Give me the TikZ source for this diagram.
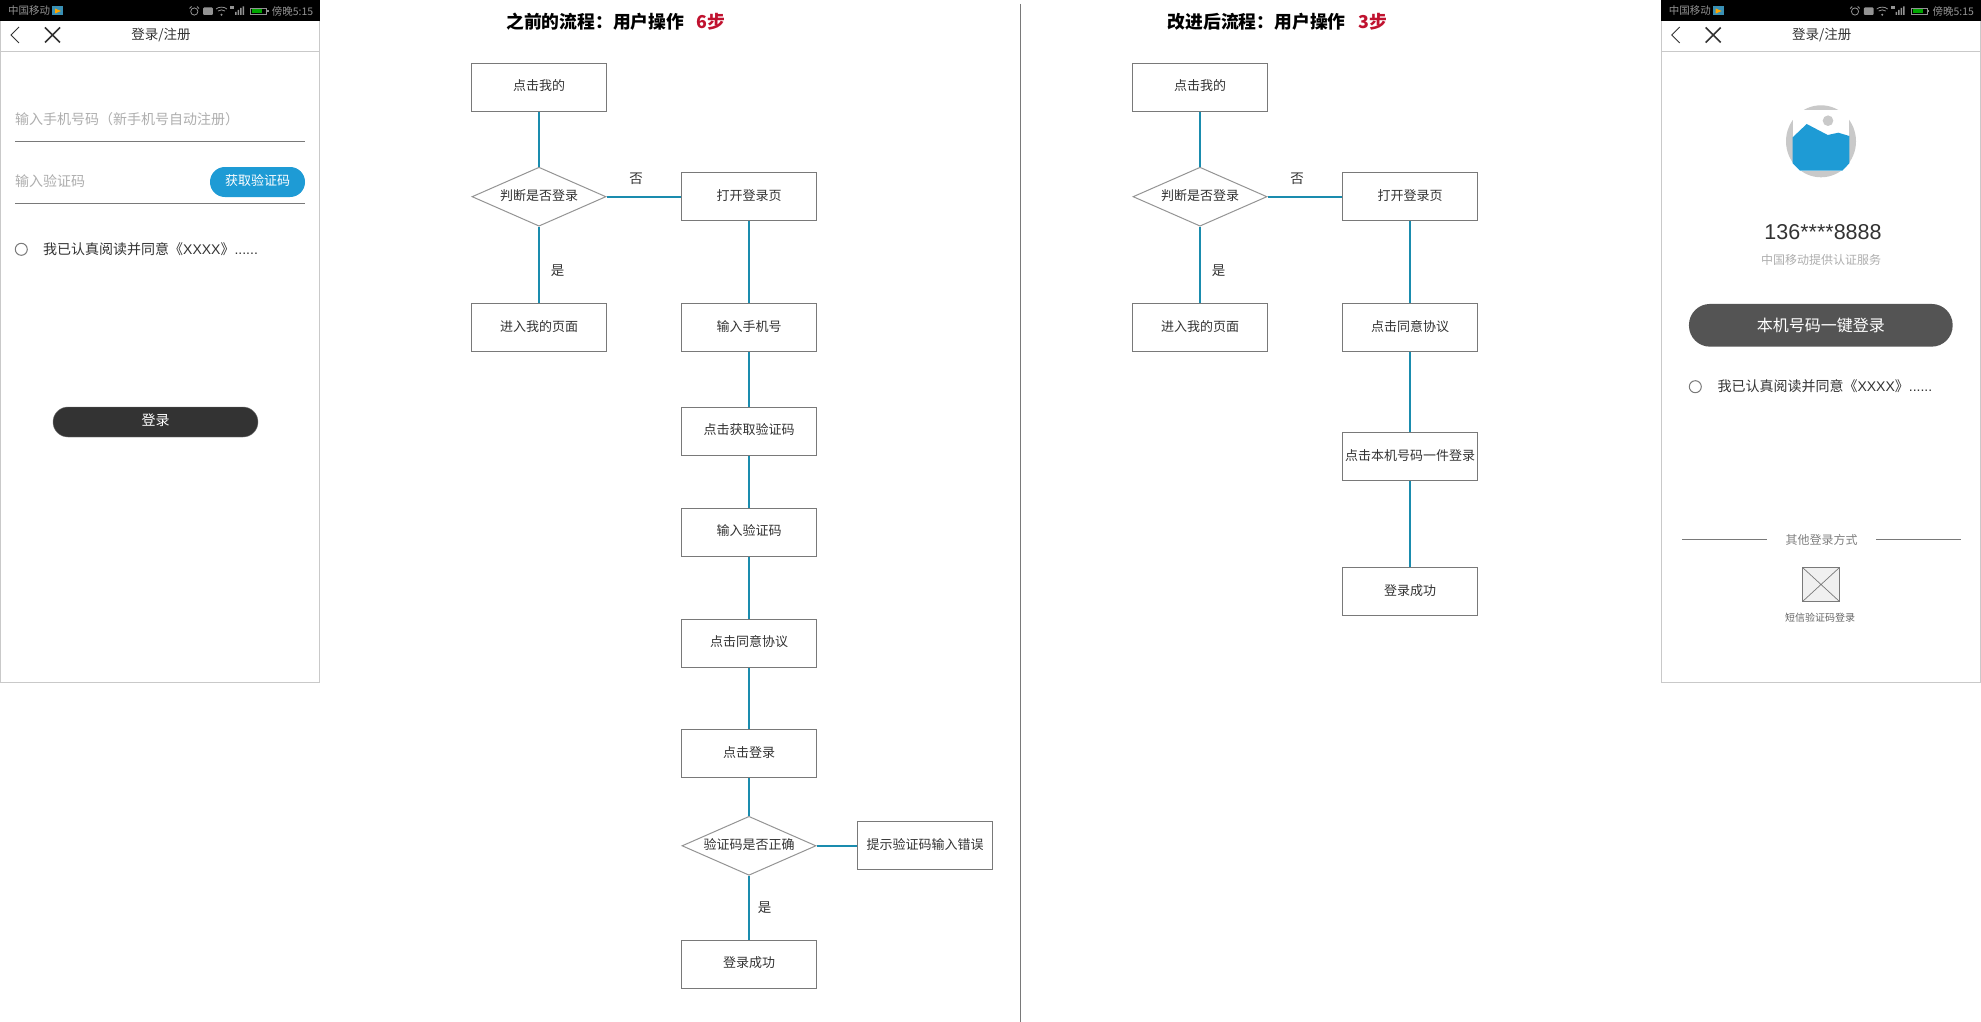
\documentclass[tikz,border=0pt]{standalone}
\usepackage{fontspec}
\setmainfont{Noto Sans CJK SC}
\newfontfamily\numfont{Liberation Sans}
\usetikzlibrary{shapes.geometric}
\definecolor{linegray}{HTML}{797979}
\definecolor{framegray}{HTML}{C9C9C9}
\definecolor{hintgray}{HTML}{AEAEAE}
\definecolor{textdark}{HTML}{333333}
\definecolor{flowblue}{HTML}{1A8CAE}
\definecolor{btnblue}{HTML}{1E9BD5}
\definecolor{stepred}{HTML}{C0122F}
\tikzset{
  raised/.style={text height=10pt, text depth=2.6pt},
  flowbox/.style={draw=linegray, line width=1pt, minimum width=135pt, minimum height=48pt, inner sep=0pt, text=textdark, raised, font=\fontsize{13}{15}\selectfont},
  flowdiamond/.style={draw=linegray!80, line width=1pt, shape=diamond, aspect=2.27, minimum width=134pt, minimum height=59pt, inner sep=0pt, text=textdark, raised, font=\fontsize{13}{15}\selectfont},
  flowline/.style={draw=flowblue, line width=2pt},
  flowlabel/.style={text=textdark, inner sep=0pt, font=\fontsize{13.5}{15}\selectfont},
  titletext/.style={inner sep=0pt, anchor=west, font=\fontsize{17.8}{20}\selectfont\bfseries},
  hint/.style={text=hintgray, inner sep=0pt, anchor=west, font=\fontsize{14}{16}\selectfont},
  agree/.style={text=textdark, inner sep=0pt, anchor=west, font=\fontsize{14}{16}\selectfont},
  status/.style={text=gray!85, inner sep=0pt, font=\fontsize{10.5}{12}\selectfont},
  rule/.style={draw=linegray, line width=1pt}
}
\begin{document}
\begin{tikzpicture}[x=1pt,y=-1pt]
\useasboundingbox (0,0) rectangle (1981,1022);
\fill[white] (0,0) rectangle (1981,1022);

% the two phone frames with status bar and title bar
\foreach \dx/\ph in {0/l,1660.7/r}{
\begin{scope}[shift={(\dx,0)}]
\draw[framegray, line width=1pt] (0.7,1) rectangle (319.6,682.5);
\fill[black] (0.2,0) rectangle (320.1,21.5);
\draw[framegray, line width=1pt] (0.7,51.5) -- (319.6,51.5);
\node[status, anchor=west] (\ph carrier) at (8,11) {中国移动};
\fill[cyan!70!black] (52,6.5) rectangle (63,15.5);
\fill[orange!70!yellow] (55,8.5) -- (61,11) -- (55,13.5) -- cycle;
\draw[gray!85, line width=0.8pt] (194.3,11.5) circle (3.6);
\draw[gray!85, line width=0.8pt] (189.5,8.5) -- (191.5,6.5) (199,8.5) -- (197,6.5);
\fill[gray!85, rounded corners=1pt] (203.2,7.5) rectangle (212.8,15);
\draw[gray!85, line width=0.8pt] (216,9) .. controls (219,6.5) and (224,6.5) .. (227,9);
\draw[gray!85, line width=0.8pt] (218,11) .. controls (220,9.5) and (223,9.5) .. (225,11);
\fill[gray!85] (221.5,14.8) circle (1.1);
\fill[gray!85] (235,12) rectangle (236.5,15) (237.5,10) rectangle (239,15) (240,8) rectangle (241.5,15) (242.5,6.5) rectangle (244,15);
\fill[gray!85] (230,6.5) rectangle (234,9);
\draw[gray!85, line width=0.8pt] (250.5,8) rectangle (266.5,14.5);
\fill[green!65!black] (252,9.2) rectangle (262,13.3);
\fill[gray!85] (267,10) rectangle (268.5,12.5);
\node[status, anchor=east] (\ph clock) at (313.5,11) {傍晚5:15};
\draw[textdark, line width=1pt] (19,27) -- (11,35) -- (19,43);
\draw[textdark, line width=1.6pt] (45,27.5) -- (60,42.5) (60,27.5) -- (45,42.5);
\node[flowlabel] (\ph navtitle) at (161,35) {登录/注册};
\end{scope}
}

% left phone
\node[hint] (phoneinput) at (15,119) {输入手机号码（新手机号自动注册）};
\draw[rule] (15,141.3) -- (305,141.3);
\node[hint] (codeinput) at (15,181.3) {输入验证码};
\node[fill=btnblue, rounded corners=14.9pt, minimum width=95pt, minimum height=30pt, inner sep=0pt, text=white, raised, font=\fontsize{13}{15}\selectfont] (getcode) at (257.5,182) {获取验证码};
\draw[rule] (15,203) -- (305,203);
\draw[linegray, line width=1pt] (21.3,249.3) circle (6);
\node[agree] (agreeleft) at (43,249) {我已认真阅读并同意《{\numfont XXXX}》{\numfont ......}};
\node[fill=textdark, draw=linegray, rounded corners=14.9pt, minimum width=205pt, minimum height=30pt, inner sep=0pt, text=white, raised, font=\fontsize{14}{16}\selectfont] (loginbtn) at (155.5,422) {登录};

% old flow
\node[titletext] (oldtitle) at (506,21.5) {之前的流程：用户操作};
\node[titletext, text=stepred] (oldsteps) at (696,21.5) {6步};
\node[flowbox] (a1) at (539,87.3) {点击我的};
\node[flowdiamond] (a2) at (539,196.7) {判断是否登录};
\node[flowbox] (a3) at (539,327.3) {进入我的页面};
\node[flowbox] (b1) at (749,196.7) {打开登录页};
\node[flowbox] (b2) at (749,327.3) {输入手机号};
\node[flowbox] (b3) at (749,431) {点击获取验证码};
\node[flowbox] (b4) at (749,532) {输入验证码};
\node[flowbox] (b5) at (749,643) {点击同意协议};
\node[flowbox] (b6) at (749,753.3) {点击登录};
\node[flowdiamond] (b7) at (749,845.8) {验证码是否正确};
\node[flowbox] (b8) at (925,845.8) {提示验证码输入错误};
\node[flowbox] (b9) at (749,964) {登录成功};
\draw[flowline] (a1) -- (a2);
\draw[flowline] (a2) -- (a3);
\draw[flowline] (a2) -- (b1);
\draw[flowline] (b1) -- (b2);
\draw[flowline] (b2) -- (b3);
\draw[flowline] (b3) -- (b4);
\draw[flowline] (b4) -- (b5);
\draw[flowline] (b5) -- (b6);
\draw[flowline] (b6) -- (b7);
\draw[flowline] (b7) -- (b8);
\draw[flowline] (b7) -- (b9);
\node[flowlabel] (ano) at (636,179) {否};
\node[flowlabel] (ayes) at (557.7,271) {是};
\node[flowlabel] (byes) at (764.7,907.7) {是};

% divider
\draw[linegray, line width=1pt] (1020.3,4) -- (1020.3,1022);

% new flow
\node[titletext] (newtitle) at (1167.5,21.5) {改进后流程：用户操作};
\node[titletext, text=stepred] (newsteps) at (1358,21.5) {3步};
\node[flowbox] (c1) at (1200,87.3) {点击我的};
\node[flowdiamond] (c2) at (1200,196.7) {判断是否登录};
\node[flowbox] (c3) at (1200,327.3) {进入我的页面};
\node[flowbox] (d1) at (1410,196.7) {打开登录页};
\node[flowbox] (d2) at (1410,327.3) {点击同意协议};
\node[flowbox] (d3) at (1410,456.5) {点击本机号码一件登录};
\node[flowbox] (d4) at (1410,591.6) {登录成功};
\draw[flowline] (c1) -- (c2);
\draw[flowline] (c2) -- (c3);
\draw[flowline] (c2) -- (d1);
\draw[flowline] (d1) -- (d2);
\draw[flowline] (d2) -- (d3);
\draw[flowline] (d3) -- (d4);
\node[flowlabel] (cno) at (1297,179) {否};
\node[flowlabel] (cyes) at (1218.7,271) {是};

% right phone
\fill[framegray] (1821,141.3) ellipse (35 and 36);
\fill[white] (1792.7,110.5) rectangle (1849.3,170.7);
\fill[framegray] (1828,120.7) circle (5.3);
\fill[btnblue] (1792.7,137.3) -- (1806.7,124) -- (1827.7,135) -- (1838.3,132.7) -- (1849.3,136) -- (1849.3,163.3) -- (1842.3,170.7) -- (1800,170.7) -- (1792.7,163.3) -- cycle;
\node[text=textdark, inner sep=0pt, font=\numfont\fontsize{21.5}{24}\selectfont] (phonenum) at (1823,231.7) {136****8888};
\node[text=hintgray, inner sep=0pt, font=\fontsize{12}{14}\selectfont] (provider) at (1821,260) {中国移动提供认证服务};
\node[fill=black!67, rounded corners=21pt, minimum width=263.7pt, minimum height=42.7pt, inner sep=0pt, text=white, font=\fontsize{16}{18}\selectfont] (onekey) at (1820.8,325.3) {本机号码一键登录};
\draw[linegray, line width=1pt] (1695.3,386.7) circle (6);
\node[agree] (agreeright) at (1717.3,386.3) {我已认真阅读并同意《{\numfont XXXX}》{\numfont ......}};
\node[text=gray, inner sep=0pt, font=\fontsize{12}{14}\selectfont] (otherway) at (1821.5,539.5) {其他登录方式};
\draw[rule] (1682.3,539) -- (1767.3,539);
\draw[rule] (1876,539) -- (1961,539);
\draw[linegray, fill=black!6, line width=1pt] (1802.3,567.3) rectangle (1839.7,601.7);
\draw[linegray, line width=0.7pt] (1802.3,567.3) -- (1839.7,601.7) (1802.3,601.7) -- (1839.7,567.3);
\node[text=black!60, inner sep=0pt, font=\fontsize{10}{12}\selectfont] (smslogin) at (1820,617.7) {短信验证码登录};
\end{tikzpicture}
\end{document}
